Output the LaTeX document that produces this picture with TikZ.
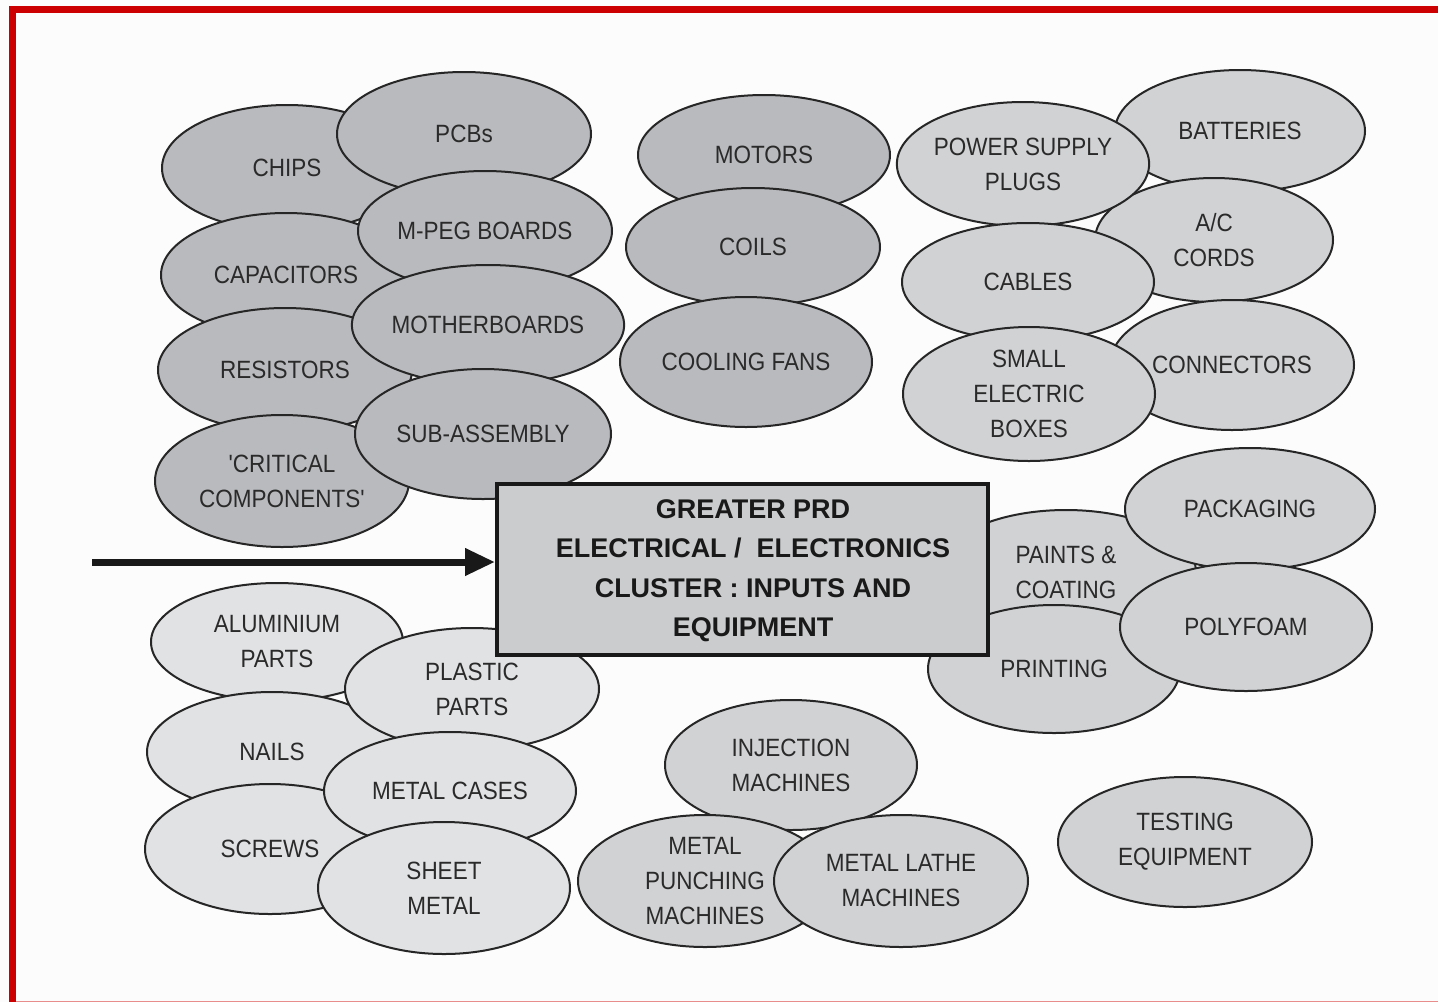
\documentclass[tikz,border=0pt]{standalone}
\usepackage{fontspec}
\setmainfont{Liberation Sans}
\newfontfamily\blobfont[FakeStretch=0.9]{Liberation Sans}
\usetikzlibrary{shapes.geometric,arrows.meta}
\definecolor{darkblob}{HTML}{B9BABD}
\definecolor{midblob}{HTML}{D1D2D4}
\definecolor{lightblob}{HTML}{E1E2E4}
\definecolor{boxfill}{HTML}{CBCCCE}
\definecolor{frame}{HTML}{CC0000}
\definecolor{ink}{HTML}{2A2A2A}
\tikzset{
  blob/.style={ellipse, draw=black!85, line width=2pt, inner sep=0pt, align=center,
    text=ink, font=\blobfont\fontsize{25}{35}\selectfont},
  sz/.style n args={2}{minimum width=#1pt, minimum height=#2pt},
  dk/.style={blob, fill=darkblob},
  md/.style={blob, fill=midblob},
  lt/.style={blob, fill=lightblob},
  centerbox/.style={draw=black!90, line width=4pt, fill=boxfill, inner sep=0pt,
    minimum width=491pt, minimum height=171pt},
  centertext/.style={inner sep=0pt, align=center, text=black!90,
    font=\bfseries\fontsize{27}{39.5}\selectfont},
  bigarrow/.style={line width=7pt, draw=black!90, -{Triangle[length=30pt,width=26pt]}}
}
\begin{document}
\begin{tikzpicture}[x=1pt,y=-1pt]
\fill[white!99!black] (0,0) rectangle (1438,1002);
\useasboundingbox (0,0) rectangle (1438,1002);
% red frame
\fill[frame] (9,6) rectangle (1438,13);
\fill[frame] (9,6) rectangle (16,1002);
\fill[frame!45] (16,1000.5) rectangle (1438,1002);

% top-left cluster
\node[dk, sz={250}{126}] (chips) at (287,168) {CHIPS};
\node[dk, sz={254}{124}] (pcbs) at (464,134) {PCBs};
\node[dk, sz={250}{124}] (capacitors) at (286,275) {CAPACITORS};
\node[dk, sz={254}{120}] (mpeg) at (485,231) {M-PEG BOARDS};
\node[dk, sz={254}{124}] (resistors) at (285,370) {RESISTORS};
\node[dk, sz={256}{120}] (motherboards) at (488,325) {MOTHERBOARDS};
\node[dk, sz={254}{132}] (critical) at (282,481) {'CRITICAL\\COMPONENTS'};
\node[dk, sz={256}{130}] (subassembly) at (483,434) {SUB-ASSEMBLY};

% middle column
\node[dk, sz={252}{120}] (motors) at (764,155) {MOTORS};
\node[dk, sz={254}{118}] (coils) at (753,247) {COILS};
\node[dk, sz={252}{130}] (fans) at (746,362) {COOLING FANS};

% top-right cluster
\node[md, sz={250}{122}] (batteries) at (1240,131) {BATTERIES};
\node[md, sz={238}{124}] (accords) at (1214,240) {A/C\\CORDS};
\node[md, sz={250}{124}] (power) at (1023,164) {POWER SUPPLY\\PLUGS};
\node[md, sz={252}{118}] (cables) at (1028,282) {CABLES};
\node[md, sz={244}{130}] (connectors) at (1232,365) {CONNECTORS};
\node[md, sz={252}{134}] (smallboxes) at (1029,394) {SMALL\\ELECTRIC\\BOXES};

% right-middle cluster
\node[md, sz={260}{124}] (paints) at (1066,572) {PAINTS \&\\COATING};
\node[md, sz={250}{122}] (packaging) at (1250,509) {PACKAGING};
\node[md, sz={252}{128}] (printing) at (1054,669) {PRINTING};
\node[md, sz={252}{128}] (polyfoam) at (1246,627) {POLYFOAM};

% bottom-left cluster
\node[lt, sz={252}{118}] (aluminium) at (277,642) {ALUMINIUM\\PARTS};
\node[lt, sz={250}{120}] (nails) at (272,752) {NAILS};
\node[lt, sz={254}{122}] (plastic) at (472,689) {PLASTIC\\PARTS};
\node[lt, sz={250}{130}] (screws) at (270,849) {SCREWS};
\node[lt, sz={252}{118}] (metalcases) at (450,791) {METAL CASES};
\node[lt, sz={252}{132}] (sheetmetal) at (444,888) {SHEET\\METAL};

% bottom-middle cluster
\node[md, sz={252}{130}] (injection) at (791,765) {INJECTION\\MACHINES};
\node[md, sz={254}{132}] (punching) at (705,881) {METAL\\PUNCHING\\MACHINES};
\node[md, sz={254}{132}] (lathe) at (901,881) {METAL LATHE\\MACHINES};

% testing
\node[md, sz={254}{130}] (testing) at (1185,842) {TESTING\\EQUIPMENT};

% central box and arrow
\node[centerbox] (core) at (742.5,569.5) {};
\node[centertext] (coretext) at (753,570.5) {GREATER PRD\\ELECTRICAL /\ \ ELECTRONICS\\CLUSTER : INPUTS AND\\EQUIPMENT};
\coordinate (src) at (92,562);
\draw[bigarrow] (src) -- (src -| core.west);
\end{tikzpicture}
\end{document}
